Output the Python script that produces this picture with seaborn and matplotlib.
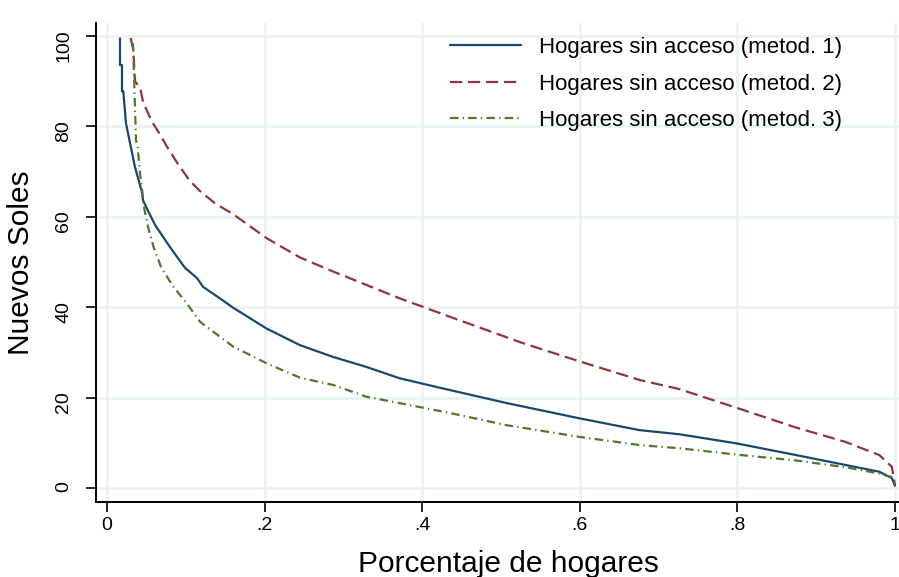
import matplotlib
matplotlib.use("Agg")
import matplotlib.pyplot as plt
import seaborn as sns
import pandas as pd

# ---- data ----
x_m1 = [0.0165, 0.0165, 0.019, 0.019, 0.0207, 0.024, 0.0355, 0.044, 0.046, 0.061, 0.080,
        0.099, 0.114, 0.122, 0.143, 0.160, 0.2024, 0.245, 0.287, 0.329, 0.371, 0.422,
        0.507, 0.600, 0.676, 0.726, 0.798, 0.874, 0.937, 0.980, 0.996, 1.0]
y_m1 = [99.5, 93.6, 93.6, 87.8, 87.8, 80.8, 71.0, 65.7, 63.5, 58.2, 53.3,
        48.7, 46.5, 44.5, 42.0, 39.9, 35.3, 31.6, 29.0, 26.8, 24.3, 22.2,
        18.8, 15.4, 12.8, 11.9, 9.9, 7.3, 5.1, 3.6, 2.2, 0.5]

x_m2 = [0.030, 0.0334, 0.0355, 0.042, 0.046, 0.0566, 0.067, 0.078, 0.090, 0.105, 0.118,
        0.137, 0.160, 0.2024, 0.245, 0.287, 0.371, 0.435, 0.527, 0.600, 0.676, 0.726,
        0.798, 0.874, 0.937, 0.980, 0.996, 1.0]
y_m2 = [99.6, 97.0, 90.0, 88.6, 85.3, 81.2, 78.3, 75.0, 71.7, 68.0, 65.7,
        63.0, 60.6, 55.3, 51.0, 47.9, 42.0, 37.9, 32.1, 28.0, 23.9, 21.9,
        17.8, 13.4, 10.2, 7.3, 4.7, 0.7]

x_m3 = [0.033, 0.0368, 0.039, 0.042, 0.045, 0.046, 0.052, 0.059, 0.069, 0.084, 0.101,
        0.118, 0.124, 0.160, 0.2024, 0.245, 0.287, 0.329, 0.371, 0.435, 0.507, 0.600,
        0.676, 0.726, 0.798, 0.874, 0.937, 0.980, 0.996, 1.0]
y_m3 = [98.4, 77.0, 75.3, 69.5, 65.3, 63.0, 57.8, 53.4, 48.7, 44.6, 40.9,
        36.8, 36.0, 31.3, 27.6, 24.4, 22.8, 20.2, 18.8, 16.6, 13.9, 11.3,
        9.5, 8.8, 7.4, 6.1, 4.6, 3.2, 2.4, 0.8]

labels = ["Hogares sin acceso (metod. 1)", "Hogares sin acceso (metod. 2)",
          "Hogares sin acceso (metod. 3)"]
x_ticks = [0, 0.2, 0.4, 0.6, 0.8, 1.0]
x_ticklabels = ["0", ".2", ".4", ".6", ".8", "1"]
y_ticks = [0, 20, 40, 60, 80, 100]
y_ticklabels = ["0", "20", "40", "60", "80", "100"]
x_title = "Porcentaje de hogares"
y_title = "Nuevos Soles"

# ---- style ----
sns.set_theme(style="white")
plt.rcParams["font.family"] = ["Liberation Sans", "DejaVu Sans"]
plt.rcParams["xtick.labelsize"] = 14
plt.rcParams["ytick.labelsize"] = 14

fig = plt.figure(figsize=(8.99, 5.77), dpi=100)
ax = fig.add_axes([96 / 899, 1 - 502 / 577, 1 - 96 / 899, (502 - 23) / 577])

colors = ["#1a476f", "#90353b", "#55752f"]
styles = ["-", (0, (5.5, 2.6)), (0, (3.8, 1.9, 0.6, 1.9))]
lw = 1.6

# grid lines at the tick positions (drawn beneath the data)
for xv in x_ticks:
    ax.axvline(xv, color="#eaf2f3", linewidth=2.0, zorder=0)
for yv in y_ticks:
    ax.axhline(yv, color="#eaf2f3", linewidth=2.0, zorder=0)

handles = []
for xs, ys, lab, c, ls in zip([x_m1, x_m2, x_m3], [y_m1, y_m2, y_m3], labels, colors, styles):
    df = pd.DataFrame({"x": xs, "y": ys})
    sns.lineplot(data=df, x="x", y="y", ax=ax, estimator=None, sort=False,
                 color=c, linewidth=lw, label=lab, zorder=3)
    line = ax.get_lines()[-1]
    line.set_linestyle(ls)
    handles.append(line)

ax.set_xlim(-0.01396, 1.0051)
ax.set_ylim(-3.1, 102.9)

for side in ["top", "right"]:
    ax.spines[side].set_visible(False)
for side in ["left", "bottom"]:
    ax.spines[side].set_color("black")
    ax.spines[side].set_linewidth(1.4)

ax.set_xlabel(x_title, fontsize=21.5, color="black")
ax.set_ylabel(y_title, fontsize=21.5, color="black", labelpad=15)
ax.xaxis.set_label_coords((508 - 96) / (899 - 96), -0.100)

leg = ax.legend(handles=handles, labels=labels, loc="upper left",
                frameon=False, fontsize=16, handlelength=3.2, handletextpad=0.8,
                labelspacing=0.7, borderaxespad=0, borderpad=0)
leg.set_bbox_to_anchor((450 / 899, 1 - 37 / 577), transform=fig.transFigure)
for t in leg.get_texts():
    t.set_color("black")

# ticks last
ax.set_xticks(x_ticks, x_ticklabels)
ax.set_yticks(y_ticks, y_ticklabels)
ax.tick_params(axis="both", which="major", direction="out", length=7, width=1.2,
               color="black", labelcolor="black", labelsize=14, left=True, bottom=True)
ax.tick_params(axis="y", pad=10, labelrotation=90)

fig.canvas.draw()
for t in ax.get_xticklabels() + ax.get_yticklabels():
    t.set_fontsize(14)
fig.savefig("out.png", dpi=100)
